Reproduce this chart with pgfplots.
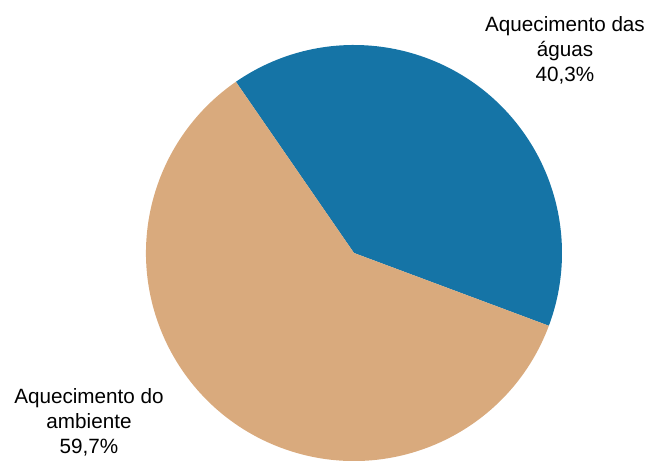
\documentclass[border=0pt]{standalone}
\usepackage{fontspec}
\setmainfont{Liberation Sans}
\usepackage{pgfplots}
\usepackage{pgfplotstable}
\pgfplotsset{compat=1.18}
\definecolor{aguas}{HTML}{1574A6}
\definecolor{ambiente}{HTML}{D9AA7D}

\pgfplotstableread{
label value
aguas 40.3
ambiente 59.7
}\piedata
\pgfplotstablegetelem{0}{value}\of\piedata \let\vA\pgfplotsretval
\pgfplotstablegetelem{1}{value}\of\piedata \let\vB\pgfplotsretval
% slice boundaries, clockwise from the upper-left edge
\pgfmathsetmacro\angA{124.6}
\pgfmathsetmacro\angB{\angA-3.6*\vA}
\pgfmathsetmacro\angC{\angB-3.6*\vB}

\begin{document}
\begin{tikzpicture}
  \begin{axis}[
    width=486pt, height=345pt,
    scale only axis,
    xmin=0, xmax=648, ymin=0, ymax=460,
    axis lines=none,
    ticks=none,
    clip=false,
    ]
    \addplot[draw=none] coordinates {(0,0) (648,460)};
    \fill[aguas] (axis cs:354,207) -- ++(\angA:156pt)
      arc[start angle=\angA, end angle=\angB, radius=156pt] -- cycle;
    \fill[ambiente] (axis cs:354,207) -- ++(\angB:156pt)
      arc[start angle=\angB, end angle=\angC, radius=156pt] -- cycle;
    \node[align=center, font=\fontsize{15.5}{18.75}\selectfont]
      at (axis cs:565,410) {Aquecimento das\\águas\\40,3\%};
    \node[align=center, font=\fontsize{15.5}{18.75}\selectfont]
      at (axis cs:89,38) {Aquecimento do\\ambiente\\59,7\%};
    \coordinate (bbsw) at (axis cs:0,0);
    \coordinate (bbne) at (axis cs:648,460);
  \end{axis}
  \pgfresetboundingbox
  \useasboundingbox (bbsw) rectangle (bbne);
\end{tikzpicture}
\end{document}
